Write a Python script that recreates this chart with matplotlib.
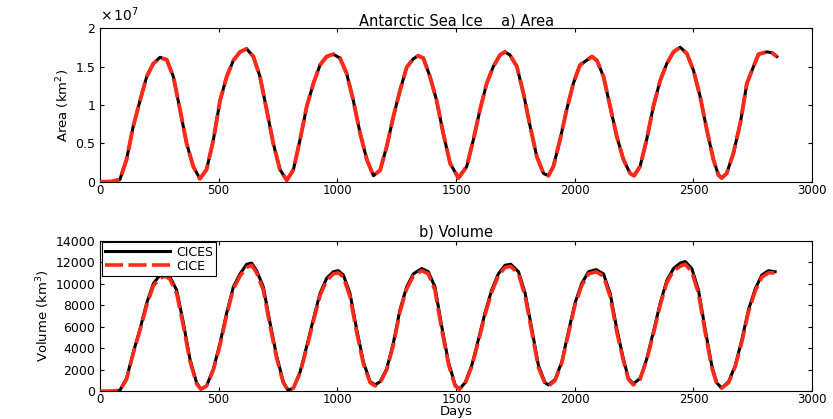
import numpy as np
import matplotlib
matplotlib.use("Agg")
import matplotlib.pyplot as plt
from matplotlib import font_manager
from matplotlib.ticker import FuncFormatter

# a) Area, in 10^6 km^2
area_days = [0, 50, 84, 112, 140, 169, 197, 225, 253, 281,
             309, 337, 365, 393, 421, 449, 478, 506, 534, 562,
             590, 618, 646, 674, 702, 730, 758, 787, 815, 843,
             871, 899, 927, 955, 983, 1011, 1039, 1067, 1096, 1124,
             1152, 1180, 1208, 1236, 1264, 1292, 1320, 1340, 1362, 1390,
             1418, 1446, 1475, 1510, 1545, 1573, 1601, 1629, 1657, 1685,
             1706, 1727, 1756, 1784, 1812, 1840, 1868, 1889, 1910, 1938,
             1966, 1994, 2022, 2050, 2072, 2093, 2121, 2149, 2177, 2205,
             2233, 2250, 2275, 2303, 2331, 2360, 2388, 2416, 2444, 2472,
             2500, 2528, 2556, 2584, 2605, 2619, 2640, 2668, 2697, 2725,
             2753, 2774, 2809, 2830, 2851]
area_cices = [0, 0.05, 0.3, 2.9, 7.2, 10.6, 13.7, 15.4, 16.2, 15.9,
              13.7, 9.4, 5.0, 2.0, 0.4, 1.6, 5.5, 10.6, 13.7, 15.8,
              16.9, 17.3, 16.3, 13.7, 9.4, 5.0, 1.6, 0.2, 1.6, 5.5,
              9.8, 12.8, 15.2, 16.3, 16.6, 16.1, 14.1, 10.6, 6.3, 2.9,
              0.8, 1.5, 4.6, 8.5, 11.9, 14.9, 16.0, 16.4, 16.1, 13.7,
              10.6, 6.3, 2.4, 0.5, 2.0, 5.5, 9.4, 12.8, 15.0, 16.5,
              16.9, 16.5, 15.0, 11.5, 7.2, 3.3, 1.1, 0.8, 2.0, 5.5,
              9.4, 12.8, 15.2, 15.8, 16.3, 15.8, 13.7, 9.8, 5.9, 2.9,
              1.1, 0.8, 2.0, 5.5, 9.8, 13.2, 15.4, 16.9, 17.5, 16.7,
              14.5, 11.1, 6.8, 2.9, 0.9, 0.5, 1.1, 3.7, 7.6, 12.8,
              15.0, 16.6, 16.9, 16.8, 16.3]
area_cice = [0, 0.05, 0.3, 2.9, 7.2, 10.6, 13.7, 15.4, 16.1, 15.9,
             13.7, 9.4, 5.0, 2.0, 0.4, 1.6, 5.5, 10.6, 13.7, 15.8,
             16.9, 17.3, 16.3, 13.7, 9.4, 5.0, 1.6, 0.2, 1.6, 5.5,
             9.8, 12.8, 15.2, 16.3, 16.6, 16.1, 14.1, 10.6, 6.3, 2.9,
             0.8, 1.5, 4.6, 8.5, 11.9, 14.9, 16.0, 16.4, 16.1, 13.7,
             10.6, 6.3, 2.4, 0.5, 2.0, 5.5, 9.4, 12.8, 15.0, 16.5,
             16.9, 16.5, 15.0, 11.5, 7.2, 3.3, 1.1, 0.8, 2.0, 5.5,
             9.4, 12.8, 15.2, 15.8, 16.3, 15.8, 13.7, 9.8, 5.9, 2.9,
             1.1, 0.8, 2.0, 5.5, 9.8, 13.2, 15.4, 16.9, 17.5, 16.7,
             14.5, 11.1, 6.8, 2.9, 0.9, 0.5, 1.1, 3.7, 7.6, 12.8,
             15.0, 16.6, 16.9, 16.8, 16.3]

# b) Volume, in 10^3 km^3
vol_days = [0, 50, 84, 112, 140, 169, 197, 225, 253, 274,
            295, 323, 351, 379, 407, 425, 449, 478, 506, 534,
            562, 590, 618, 639, 660, 688, 716, 744, 772, 792,
            815, 843, 871, 899, 927, 955, 983, 1004, 1025, 1053,
            1081, 1110, 1138, 1159, 1180, 1208, 1236, 1264, 1292, 1320,
            1355, 1383, 1411, 1439, 1468, 1496, 1514, 1538, 1566, 1594,
            1622, 1650, 1678, 1706, 1730, 1763, 1791, 1819, 1847, 1875,
            1889, 1917, 1945, 1973, 2001, 2029, 2058, 2090, 2121, 2149,
            2177, 2205, 2226, 2247, 2275, 2303, 2331, 2360, 2388, 2416,
            2444, 2465, 2493, 2521, 2549, 2577, 2598, 2619, 2648, 2676,
            2704, 2732, 2760, 2788, 2816, 2844]
vol_cices = [0, 0.02, 0.1, 1.2, 3.6, 5.8, 8.2, 10.0, 10.8, 10.9,
             10.6, 9.4, 6.4, 3.0, 0.8, 0.2, 0.5, 2.1, 4.5, 7.3,
             9.7, 10.9, 11.8, 11.9, 11.2, 9.7, 6.4, 3.3, 0.9, 0.1,
             0.3, 1.8, 4.2, 6.7, 9.1, 10.5, 11.1, 11.2, 10.8, 9.1,
             5.8, 2.7, 0.9, 0.6, 0.9, 2.1, 4.5, 7.6, 9.7, 10.9,
             11.4, 11.1, 9.7, 6.1, 2.7, 0.6, 0.2, 0.8, 2.4, 4.8,
             7.3, 9.4, 10.9, 11.7, 11.8, 11.1, 9.1, 5.8, 2.4, 0.8,
             0.6, 1.1, 2.7, 5.5, 8.2, 10.0, 11.1, 11.3, 10.9, 9.1,
             5.8, 3.0, 1.2, 0.7, 1.2, 3.0, 5.5, 8.2, 10.3, 11.4,
             11.9, 12.05, 11.4, 9.4, 5.8, 2.4, 0.8, 0.3, 0.9, 2.4,
             4.8, 7.6, 9.5, 10.8, 11.2, 11.1]
vol_cice = [0, 0.02, 0.1, 1.1, 3.5, 5.7, 8.0, 9.8, 10.5, 10.7,
            10.4, 9.1, 6.1, 2.8, 0.7, 0.2, 0.5, 2.0, 4.3, 7.1,
            9.5, 10.7, 11.5, 11.7, 11.0, 9.4, 6.1, 3.1, 0.8, 0.1,
            0.3, 1.7, 4.0, 6.5, 8.9, 10.3, 10.9, 11.0, 10.6, 8.8,
            5.5, 2.5, 0.8, 0.5, 0.8, 2.0, 4.3, 7.4, 9.5, 10.7,
            11.2, 10.9, 9.4, 5.8, 2.5, 0.5, 0.2, 0.7, 2.3, 4.6,
            7.1, 9.2, 10.7, 11.5, 11.6, 10.9, 8.8, 5.5, 2.2, 0.7,
            0.5, 1.0, 2.6, 5.3, 8.0, 9.8, 10.9, 11.1, 10.7, 8.8,
            5.5, 2.8, 1.1, 0.6, 1.1, 2.9, 5.3, 8.0, 10.1, 11.2,
            11.6, 11.8, 11.1, 9.1, 5.5, 2.2, 0.7, 0.3, 0.8, 2.3,
            4.6, 7.4, 9.3, 10.6, 11.0, 11.0]

# condensed face for the y labels if there is one
names = {f.name for f in font_manager.fontManager.ttflist}
if "Liberation Sans Narrow" in names:
    YLAB = dict(family="Liberation Sans Narrow", fontsize=11)
else:
    YLAB = dict(family="DejaVu Sans", fontsize=9.5)


def style(ax):
    ax.set_xlim(0, 3000)
    ax.set_xticks(np.arange(0, 3001, 500))
    ax.tick_params(direction="in", top=True, right=True, length=3, width=0.8)
    ax.tick_params(axis="x", labelsize=8.5, pad=1.5)
    ax.tick_params(axis="y", labelsize=9, pad=3.5)
    for s in ax.spines.values():
        s.set_linewidth(0.8)


def main():
    plt.rcParams["font.family"] = ["DejaVu Sans"]
    fig = plt.figure(figsize=(8.33, 4.19), dpi=100)

    ax1 = fig.add_axes([0.120, 0.566, 0.855, 0.367])
    ax1.plot(area_days, np.array(area_cices) * 1e6, color="black", lw=2.2, zorder=2)
    ax1.plot(area_days, np.array(area_cice) * 1e6, color="#ff2a1a", lw=2.8,
             dashes=(5, 1.5), zorder=3)
    style(ax1)
    ax1.set_ylim(0, 2e7)
    ax1.set_yticks(np.arange(0, 2.01e7, 0.5e7))
    ax1.yaxis.set_major_formatter(FuncFormatter(lambda v, p: "{:g}".format(v / 1e7)))
    ax1.text(0.0, 1.025, r"$\times\,10^7$", transform=ax1.transAxes, fontsize=10,
             ha="left", va="bottom")
    ax1.set_title("Antarctic Sea Ice    a) Area", fontsize=10.5, pad=2)
    ax1.set_ylabel("Area (km$^2$)", labelpad=2, **YLAB)

    ax2 = fig.add_axes([0.120, 0.066, 0.855, 0.360])
    ax2.plot(vol_days, np.array(vol_cices) * 1000, color="black", lw=2.2, zorder=2,
             label="CICES")
    ax2.plot(vol_days, np.array(vol_cice) * 1000, color="#ff2a1a", lw=2.6,
             dashes=(5, 1.5), zorder=3, label="CICE")
    style(ax2)
    ax2.set_ylim(0, 14000)
    ax2.set_yticks(np.arange(0, 14001, 2000))
    ax2.set_title("b) Volume", fontsize=10.5, pad=3)
    ax2.set_ylabel("Volume (km$^3$)", labelpad=2, **YLAB)
    ax2.set_xlabel("Days", fontsize=9.5)
    ax2.xaxis.set_label_coords(0.5, -0.093)
    leg = ax2.legend(loc="upper left", fontsize=9, fancybox=False,
                     framealpha=1, edgecolor="black", borderpad=0.25,
                     labelspacing=0.1, handlelength=5.2, handletextpad=0.5,
                     borderaxespad=0.15)
    leg.get_frame().set_linewidth(0.8)

    fig.savefig("out.png", dpi=100)


if __name__ == "__main__":
    main()
